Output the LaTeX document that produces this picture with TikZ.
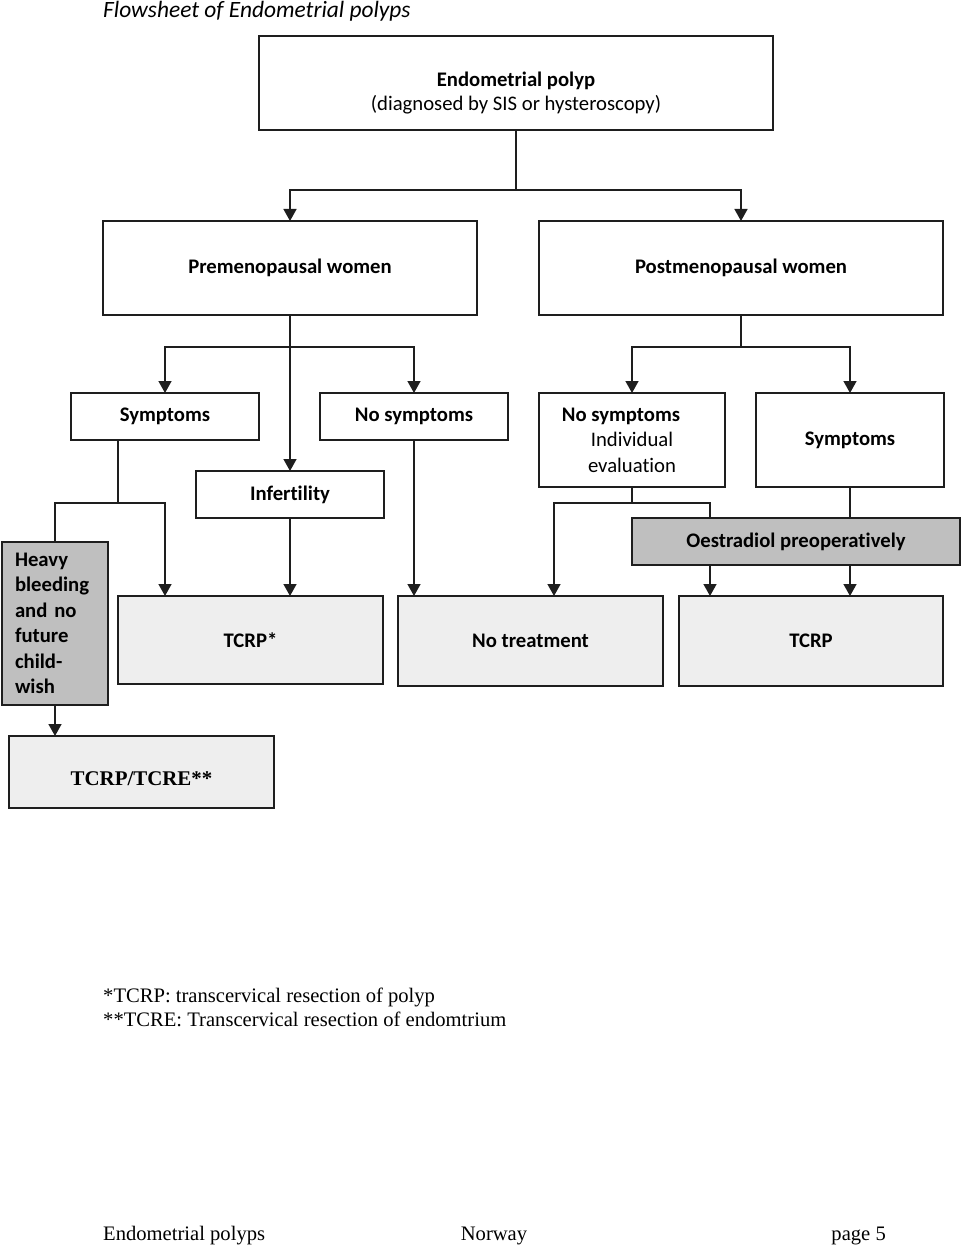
\documentclass[tikz,border=0pt]{standalone}
\usepackage{fontspec}
\setmainfont{Carlito}[Ligatures=NoCommon]
\newfontfamily\timesfont{Liberation Serif}
\usetikzlibrary{arrows.meta}
\usepackage{xcolor}
\definecolor{darkfill}{HTML}{BFBFBF}
\definecolor{lightfill}{HTML}{EEEEEE}
\definecolor{framecol}{HTML}{1E1E1E}

\tikzset{
  box/.style={draw=framecol, line width=1.5pt, rectangle, inner sep=2pt, outer sep=0pt, align=center, font=\fontsize{20.7}{25.5}\selectfont\bfseries},
  lightbox/.style={box, fill=lightfill},
  darkbox/.style={box, fill=darkfill},
  link/.style={draw=framecol, line width=1.5pt},
  arrow/.style={link, -{Triangle[width=13pt,length=12pt]}},
  note/.style={font=\timesfont\fontsize{20.6}{24}\selectfont, anchor=base west, inner sep=0pt}
}

\begin{document}
\begin{tikzpicture}[x=1pt, y=-1pt]
    \useasboundingbox (0,0) rectangle (960,1246);

    \node[font=\fontsize{23.4}{26}\selectfont\itshape, anchor=base west, inner sep=0pt] (title) at (103,18) {Flowsheet of Endometrial polyps};

    % first level
    \node[box, minimum width=514, minimum height=94, label={[yshift=-10pt, align=center, font=\fontsize{20.7}{24}\selectfont]center:\textbf{Endometrial polyp}\\(diagnosed by SIS or hysteroscopy)}] (polyp) at (516,83) {};
    \node[box, minimum width=374, minimum height=94] (pre) at (290,268) {Premenopausal women};
    \node[box, minimum width=404, minimum height=94] (post) at (741,268) {Postmenopausal women};

    % second level
    \node[box, minimum width=188, minimum height=47] (symL) at (165,416.5) {Symptoms};
    \node[box, minimum width=188, minimum height=47] (nosymL) at (414,416.5) {No symptoms};
    \node[box, minimum width=188, minimum height=47] (infert) at (290,494.5) {Infertility};
    \node[box, minimum width=186, minimum height=94] (nosymR) at (632,440) {No symptoms\hspace*{22pt}\\\mdseries Individual\\\mdseries evaluation};
    \node[box, minimum width=188, minimum height=94] (symR) at (850,440) {Symptoms};

    % treatment level
    \node[darkbox, minimum width=106, minimum height=163, text width=80pt, inner xsep=13pt, align=left] (heavy) at (55,623.5) {Heavy\\bleeding\\and no\\future\\child-\\wish};
    \node[darkbox, minimum width=328, minimum height=47] (oestr) at (796,541.5) {Oestradiol preoperatively};
    \node[lightbox, minimum width=265, minimum height=88] (tcrpstar) at (250.5,640) {TCRP*};
    \node[lightbox, minimum width=265, minimum height=90] (notreat) at (530.5,641) {No treatment};
    \node[lightbox, minimum width=264, minimum height=90] (tcrp) at (811,641) {TCRP};
    \node[lightbox, minimum width=265, minimum height=72, text height=27pt, font=\timesfont\fontsize{20.9}{24}\selectfont\bfseries] (tcre) at (141.5,772) {TCRP/TCRE**};

    \coordinate (symLout) at (118,0);
    \coordinate (notreatin) at (554,0);
    \coordinate (oestrin) at (710,0);

    % connectors
    \draw[arrow] (polyp.south) -- ++(0,60) -| (pre.north);
    \draw[arrow] (polyp.south) -- ++(0,60) -| (post.north);
    \draw[arrow] (pre.south) -- ++(0,32) -| (symL.north);
    \draw[arrow] (pre.south) -- ++(0,32) -| (nosymL.north);
    \draw[arrow] (pre.south) -- (infert.north);
    \draw[arrow] (post.south) -- ++(0,32) -| (nosymR.north);
    \draw[arrow] (post.south) -- ++(0,32) -| (symR.north);

    \draw[link] (symL.south -| symLout) -- ++(0,63) -| (heavy.north);
    \draw[arrow] (symL.south -| symLout) -- ++(0,63) -| (tcrpstar.north -| symL.south);
    \draw[arrow] (infert.south) -- (infert.south |- tcrpstar.north);
    \draw[arrow] (nosymL.south) -- (nosymL.south |- notreat.north);
    \draw[arrow] (nosymR.south) -- ++(0,16) -| (notreat.north -| notreatin);
    \draw[link] (nosymR.south) -- ++(0,16) -| (oestr.north -| oestrin);
    \draw[link] (symR.south) -- (symR.south |- oestr.north);
    \draw[arrow] (oestr.south -| oestrin) -- (tcrp.north -| oestrin);
    \draw[arrow] (oestr.south -| symR.south) -- (tcrp.north -| symR.south);
    \draw[arrow] (heavy.south) -- (heavy.south |- tcre.north);

    % notes and footer
    \node[note] (note1) at (103,1002) {*TCRP: transcervical resection of polyp};
    \node[note] (note2) at (103,1026) {**TCRE: Transcervical resection of endomtrium};
    \node[note] (foot1) at (103,1240) {Endometrial polyps};
    \node[note, anchor=base] (foot2) at (494,1240) {Norway};
    \node[note, anchor=base east] (foot3) at (886,1240) {page 5};
\end{tikzpicture}
\end{document}
